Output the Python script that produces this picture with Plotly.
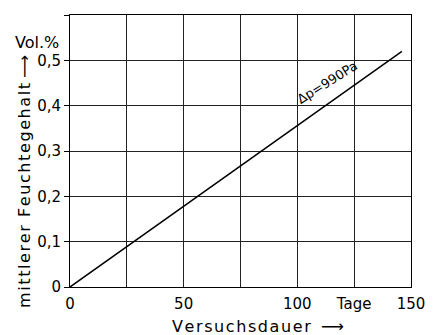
import plotly.graph_objects as go

days = [0, 146]
moisture = [0, 0.52]

x_ticks = [0, 25, 50, 75, 100, 125, 150]
x_labels = ["0", "", "50", "", "100", "Tage", "150"]
y_ticks = [0, 0.1, 0.2, 0.3, 0.4, 0.5, 0.6]
y_labels = ["0", "0,1", "0,2", "0,3", "0,4", "0,5", "0,6"]

FONT = "DejaVu Sans"


def spaced(s):
    return "\u200a".join(s)


fig = go.Figure()
fig.add_trace(go.Scatter(x=days, y=moisture, mode="lines",
                         line=dict(color="black", width=1.5), showlegend=False,
                         hoverinfo="skip"))

# page body has an 8px default margin, so the figure is 8px smaller
fig.update_layout(
    width=430, height=327,
    margin=dict(l=62, r=27, t=7, b=48, autoexpand=False),
    paper_bgcolor="white", plot_bgcolor="white",
    font=dict(family=FONT, size=15, color="black"),
    xaxis=dict(range=[0, 150], tickvals=x_ticks, ticktext=x_labels,
               showgrid=True, gridcolor="#222", gridwidth=1,
               showline=True, linecolor="black", linewidth=1, mirror=True,
               ticks="", zeroline=False, fixedrange=True, ticklabelstandoff=3),
    yaxis=dict(range=[0, 0.6], tickvals=y_ticks, ticktext=y_labels,
               showgrid=True, gridcolor="#222", gridwidth=1,
               showline=True, linecolor="black", linewidth=1, mirror=True,
               ticks="outside", ticklen=5, tickcolor="black",
               zeroline=False, fixedrange=True),
)

fig.add_annotation(text="Δp=990Pa", x=113.1, y=0.452, xref="x", yref="y",
                   showarrow=False, textangle=-32, font=dict(size=13))
fig.add_annotation(text="Vol.%", x=-0.097, y=0.90, xref="paper", yref="paper",
                   showarrow=False, xanchor="center", yanchor="middle",
                   font=dict(size=16))
fig.add_annotation(text=spaced("mittlerer Feuchtegehalt") + " ⟶", x=-0.132, y=0.39,
                   xref="paper", yref="paper", showarrow=False, textangle=-90,
                   xanchor="center", yanchor="middle", font=dict(size=16))
fig.add_annotation(text=spaced("Versuchsdauer") + "  ⟶", x=0.55, y=-0.147,
                   xref="paper", yref="paper", showarrow=False,
                   xanchor="center", yanchor="middle", font=dict(size=16))

fig.write_html("out.html")
